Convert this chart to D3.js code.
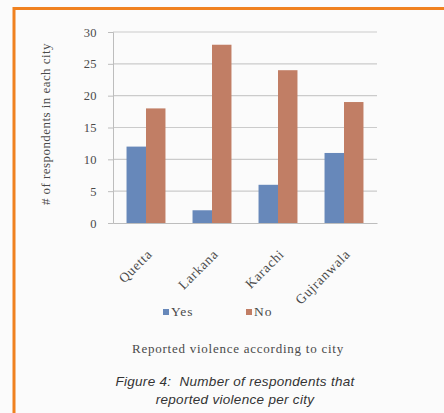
<!DOCTYPE html>
<html>
<head>
<meta charset="utf-8">
<script src="https://cdn.jsdelivr.net/npm/d3@7"></script>
<style>
  body { margin: 0; background: #fbfbfb; }
  svg { display: block; }
</style>
</head>
<body>
<svg id="chart"></svg>
<script>
var cities = ["Quetta", "Larkana", "Karachi", "Gujranwala"];
var series = ["Yes", "No"];
var yesValues = [12, 2, 6, 11];
var noValues = [18, 28, 24, 19];
var yTicks = [0, 5, 10, 15, 20, 25, 30];

var data = cities.map(function (c, i) {
  return {city: c, Yes: yesValues[i], No: noValues[i]};
});

var W = 444, H = 413;
var serif = 'Liberation Serif';
var svg = d3.select('#chart').attr('width', W).attr('height', H);

// orange frame running off the right and bottom edges
svg.append('path')
   .attr('d', 'M14,' + (H + 5) + 'V8.5H' + (W + 5))
   .attr('fill', 'none')
   .attr('stroke', '#f0811f')
   .attr('stroke-width', 3);

var margin = {top: 32, left: 113, right: 67, bottom: 190};
var width = W - margin.left - margin.right,
    height = H - margin.top - margin.bottom;

var colors = d3.scaleOrdinal().domain(series).range(['#6788ba', '#c17e65']);

var x0 = d3.scaleBand().domain(cities).range([0, width]).paddingInner(0.41).paddingOuter(0.205);
var x1 = d3.scaleBand().domain(series).range([0, x0.bandwidth()]);
var y = d3.scaleLinear().domain([0, 30]).range([height, 0]);

var g = svg.append('g').attr('transform', 'translate(' + margin.left + ',' + margin.top + ')');

// gridlines
g.selectAll('line.grid')
 .data(yTicks.slice(1))
 .enter().append('line')
 .attr('class', 'grid')
 .attr('x1', 0).attr('x2', width)
 .attr('y1', function (d) { return y(d); })
 .attr('y2', function (d) { return y(d); })
 .attr('stroke', '#cbcbcb').attr('stroke-width', 1.2);

// bars
var groups = g.selectAll('g.city')
  .data(data)
  .enter().append('g')
  .attr('transform', function (d) { return 'translate(' + x0(d.city) + ',0)'; });

groups.selectAll('rect')
  .data(function (d) { return series.map(function (s) { return {key: s, value: d[s]}; }); })
  .enter().append('rect')
  .attr('x', function (d) { return x1(d.key); })
  .attr('width', x1.bandwidth())
  .attr('y', function (d) { return y(d.value); })
  .attr('height', function (d) { return height - y(d.value); })
  .attr('fill', function (d) { return colors(d.key); });

// y axis
var yAxis = d3.axisLeft(y).tickValues(yTicks).tickSize(5).tickPadding(11);
var yg = g.append('g').call(yAxis);
yg.select('.domain').attr('stroke', '#bdbdbd');
yg.selectAll('.tick line').attr('stroke', '#bdbdbd');
yg.selectAll('text').attr('font-family', serif).attr('font-size', 12.5)
  .attr('letter-spacing', 0.4).attr('fill', '#4a4a4a');

// x axis
var xAxis = d3.axisBottom(x0).tickSize(0).tickPadding(8);
var xg = g.append('g').attr('transform', 'translate(0,' + height + ')').call(xAxis);
xg.select('.domain').attr('stroke', '#bdbdbd');
xg.selectAll('text')
  .attr('font-family', serif).attr('font-size', 13.5).attr('fill', '#4a4a4a')
  .attr('letter-spacing', 0.8)
  .attr('text-anchor', 'end')
  .attr('dy', '0.35em')
  .attr('transform', 'translate(-2,23) rotate(-45)');

// y label
svg.append('text')
   .attr('transform', 'translate(50,' + (margin.top + 92) + ') rotate(-90)')
   .attr('text-anchor', 'middle')
   .attr('font-family', serif).attr('font-size', 13).attr('fill', '#4a4a4a')
   .attr('letter-spacing', 0.45)
   .text('# of respondents in each city');

// legend
var legendX = [163, 246];
series.forEach(function (s, i) {
  svg.append('rect').attr('x', legendX[i]).attr('y', 309).attr('width', 6).attr('height', 6).attr('fill', colors(s));
  svg.append('text').attr('x', legendX[i] + 8).attr('y', 316)
     .attr('font-family', serif).attr('font-size', 13.5).attr('fill', '#4a4a4a')
     .attr('letter-spacing', 0.9)
     .text(s);
});

// x label
svg.append('text')
   .attr('x', 238).attr('y', 353)
   .attr('text-anchor', 'middle')
   .attr('font-family', serif).attr('font-size', 13).attr('fill', '#4a4a4a')
   .attr('letter-spacing', 0.75)
   .text('Reported violence according to city');

// caption
var caption = ['Figure 4:\u00a0 Number of respondents that', 'reported violence per city'];
svg.selectAll('text.caption')
   .data(caption)
   .enter().append('text')
   .attr('class', 'caption')
   .attr('x', 235)
   .attr('y', function (d, i) { return 386 + i * 18; })
   .attr('text-anchor', 'middle')
   .attr('font-family', 'Liberation Sans').attr('font-style', 'italic')
   .attr('font-size', 13.5).attr('letter-spacing', 0.3).attr('fill', '#333')
   .text(function (d) { return d; });
</script>
</body>
</html>
